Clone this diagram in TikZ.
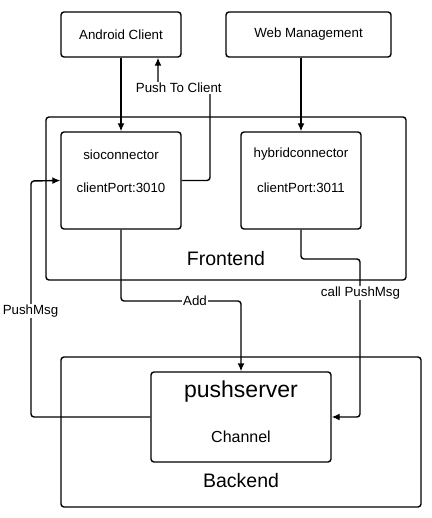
\documentclass[tikz,border=0pt]{standalone}
\usepackage{fontspec}
\setmainfont{Liberation Sans}
\usetikzlibrary{arrows.meta}

\begin{document}
\begin{tikzpicture}[x=1pt,y=-1pt,
    box/.style={draw,rounded corners=3pt,line width=1.4pt,fill=white,inner sep=0pt},
    conn/.style={line width=1.4pt,rounded corners=3pt,-{Latex[length=8pt,width=7pt]}},
    txt/.style={inner sep=0pt,font=\fontsize{13.3}{15}\selectfont},
    lbl/.style={fill=white,inner sep=1pt,font=\fontsize{13.3}{15}\selectfont}]
  \useasboundingbox (0,0) rectangle (431,518);

  %%%%%%%%%%%%%%%%%%%%%%%%%%%%%%%%%%%%%%%%%%%%%%%%%%%%%%%%%%%%%%%%%%%%%%%%%%%
  %%%%  Clients
  \node[box,minimum width=120pt,minimum height=45pt,txt] (android) at (121,34.5) {Android Client};
  \node[box,minimum width=165pt,minimum height=45pt,txt] (web) at (308.5,34.5) {Web Management};

  %%%%%%%%%%%%%%%%%%%%%%%%%%%%%%%%%%%%%%%%%%%%%%%%%%%%%%%%%%%%%%%%%%%%%%%%%%%
  %%%%  Frontend
  \node[box,minimum width=360pt,minimum height=163pt] (front) at (226,198.5) {};
  \node[txt,font=\fontsize{19.5}{22}\selectfont] (fronttxt) at (226,259) {Frontend};

  \node[box,minimum width=120pt,minimum height=97pt] (sio) at (121,180.5) {};
  \node[txt] (sioname) at ([yshift=-23pt]sio.north) {sioconnector};
  \node[txt] (sioport) at ([yshift=-56pt]sio.north) {clientPort:3010};

  \node[box,minimum width=120pt,minimum height=97pt] (hybrid) at (301,180.5) {};
  \node[txt] (hybridname) at ([yshift=-23pt]hybrid.north) {hybridconnector};
  \node[txt] (hybridport) at ([yshift=-56pt]hybrid.north) {clientPort:3011};

  %%%%%%%%%%%%%%%%%%%%%%%%%%%%%%%%%%%%%%%%%%%%%%%%%%%%%%%%%%%%%%%%%%%%%%%%%%%
  %%%%  Backend
  \node[box,minimum width=360pt,minimum height=150pt] (back) at (241,432) {};
  \node[txt,font=\fontsize{19.5}{22}\selectfont] (backtxt) at (241,481) {Backend};

  \node[box,minimum width=180pt,minimum height=90pt] (push) at (241,417) {};
  \node[txt,font=\fontsize{23}{26}\selectfont] (pushname) at ([yshift=-20pt]push.north) {pushserver};
  \node[txt,font=\fontsize{16}{18}\selectfont] (pushchan) at ([yshift=-65pt]push.north) {Channel};

  %%%%%%%%%%%%%%%%%%%%%%%%%%%%%%%%%%%%%%%%%%%%%%%%%%%%%%%%%%%%%%%%%%%%%%%%%%%
  %%%%  Connectors
  \coordinate (pushin) at ([xshift=37pt]android.south);
  \draw[conn] (android.south) -- (sio.north);
  \draw[conn] (web.south -| hybrid.north) -- (hybrid.north);
  \draw[conn] (sio.east) -| (210,88) -- node[lbl,pos=0.6] (pushlbl) {Push To Client} (158,88) -- (pushin);

  \draw[conn] (push.west) -| (31,181) -- (sio.west);
  \node[lbl] (msglbl) at (30.5,311) {PushMsg};

  \draw[conn] (sio.south) |- (241,301) -- (push.north);
  \node[lbl] (addlbl) at (195,301) {Add};

  \draw[conn] (hybrid.south) |- (360,259) |- (push.east);
  \node[lbl] (calllbl) at (360.5,293) {call PushMsg};
\end{tikzpicture}
\end{document}
